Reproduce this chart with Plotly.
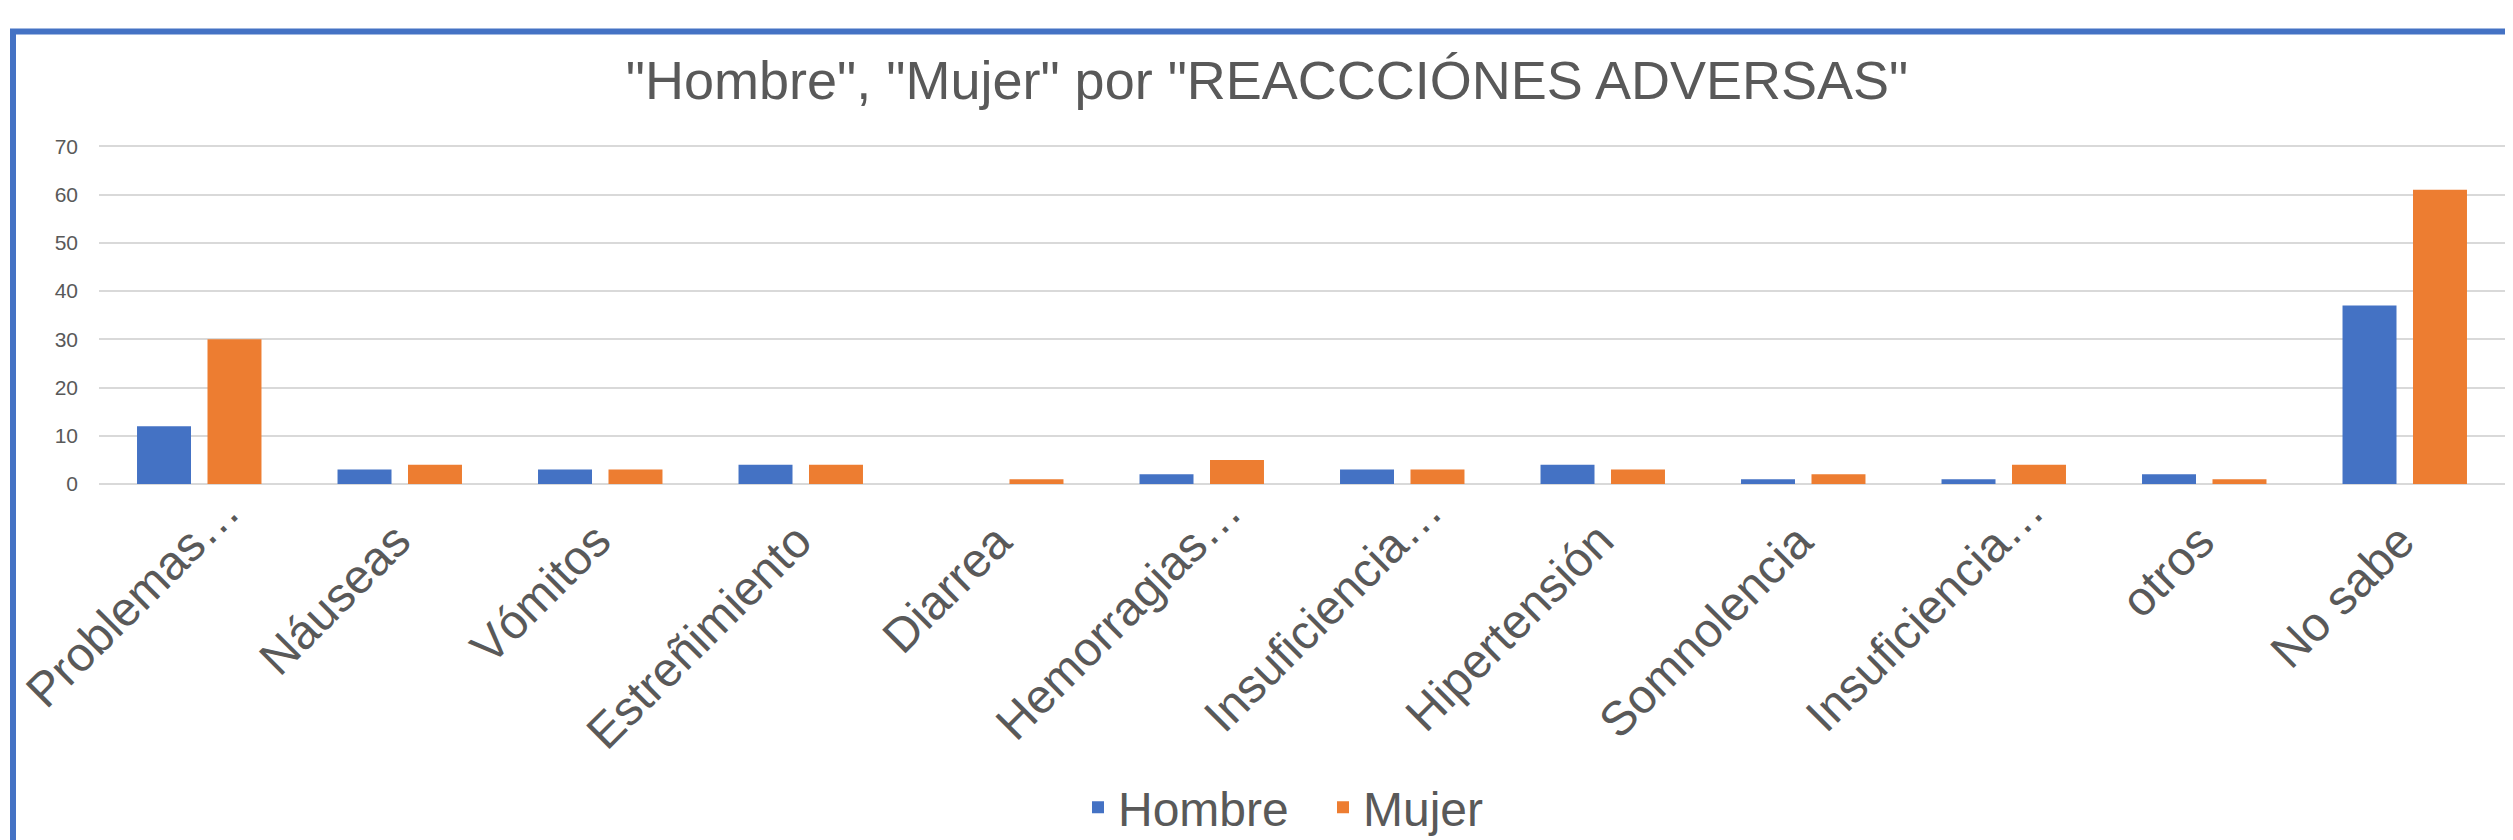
import plotly.graph_objects as go

categories = ["Problemas…", "Náuseas", "Vómitos", "Estreñimiento", "Diarrea",
              "Hemorragias…", "Insuficiencia…", "Hipertensión", "Somnolencia",
              "Insuficiencia…", "otros", "No sabe"]
hombre = [12, 3, 3, 4, 0, 2, 3, 4, 1, 1, 2, 37]
mujer = [30, 4, 3, 4, 1, 5, 3, 3, 2, 4, 1, 61]
y_ticks = [0, 10, 20, 30, 40, 50, 60, 70]
title_text = '"Hombre", "Mujer" por "REACCCIÓNES ADVERSAS"'

positions = list(range(len(categories)))

# page has an 8px body margin; work in page pixels and convert
OFF = 8
W, H = 2513 - OFF, 840 - OFF
Y_TOP = 70.5
PLOT_L, PLOT_R = 99, 2505          # page px
PLOT_Y0 = 484                      # page px of value 0
PX_PER_UNIT = (484 - 146) / 70.0
PLOT_T = PLOT_Y0 - Y_TOP * PX_PER_UNIT
ML = PLOT_L - OFF
MR = (2513 - OFF) - (PLOT_R - OFF)
MT = PLOT_T - OFF
MB = H - (PLOT_Y0 - OFF)
PW = W - ML - MR
PH = H - MT - MB

FONT = "Liberation Sans, Arial, sans-serif"
TXT = "#595959"
LABEL_SIZE = 48
LABEL_DX, LABEL_DY = 23, -27       # offset of rotated label box from tick
ELLIPSIS_SHIFT = 30                # truncated labels overflow along the diagonal

fig = go.Figure()
fig.add_trace(go.Bar(x=positions, y=hombre, name="Hombre",
                     marker=dict(color="#4472C4", line=dict(width=0))))
fig.add_trace(go.Bar(x=positions, y=mujer, name="Mujer",
                     marker=dict(color="#ED7D31", line=dict(width=0))))

def px_x(px):
    return (px - PLOT_L) / PW

def px_y(py):
    return (PLOT_Y0 - py) / PH

# category labels (rotated), anchored at each category position
for p, lab in zip(positions, categories):
    e = ELLIPSIS_SHIFT if lab.endswith("…") else 0
    fig.add_annotation(x=p, y=0, xref="x", yref="y", text=lab, textangle=-45,
                       xanchor="right", yanchor="top", showarrow=False,
                       xshift=LABEL_DX + e, yshift=LABEL_DY + e,
                       font=dict(family=FONT, size=LABEL_SIZE, color=TXT))

fig.add_shape(type="rect", xref="paper", yref="paper",
              x0=px_x(13), x1=px_x(2560), y0=px_y(900), y1=px_y(31),
              line=dict(color="#4472C4", width=6), fillcolor="rgba(0,0,0,0)",
              layer="above")

fig.update_layout(
    width=W, height=H,
    margin=dict(l=ML, r=MR, t=MT, b=MB, autoexpand=False),
    paper_bgcolor="white", plot_bgcolor="white",
    barmode="group", bargap=0.297, bargroupgap=0.234,
    title=dict(text=title_text, x=(1267 - OFF) / W, xanchor="center", xref="container",
               y=1 - (80 - OFF) / H, yanchor="middle", yref="container",
               font=dict(family=FONT, size=54, color=TXT)),
    font=dict(family=FONT, color=TXT),
    legend=dict(orientation="h", x=(1323 - OFF) / W, xanchor="center", xref="container",
                y=px_y(808), yanchor="middle",
                font=dict(family=FONT, size=48, color=TXT),
                itemwidth=30, entrywidth=200, tracegroupgap=0,
                bgcolor="rgba(0,0,0,0)"),
    showlegend=True,
)
fig.update_xaxes(range=[-0.5, len(categories) - 0.5], tickmode="array",
                 tickvals=positions, showticklabels=False,
                 showgrid=False, showline=False, zeroline=False, ticks="")
fig.update_yaxes(range=[0, Y_TOP], tickmode="array", tickvals=y_ticks,
                 tickfont=dict(family=FONT, size=21, color=TXT),
                 showgrid=True, gridcolor="#D9D9D9", gridwidth=2,
                 zeroline=True, zerolinecolor="#D9D9D9", zerolinewidth=2,
                 showline=False, ticks="", ticklabelstandoff=20)

fig.write_html("out.html")
